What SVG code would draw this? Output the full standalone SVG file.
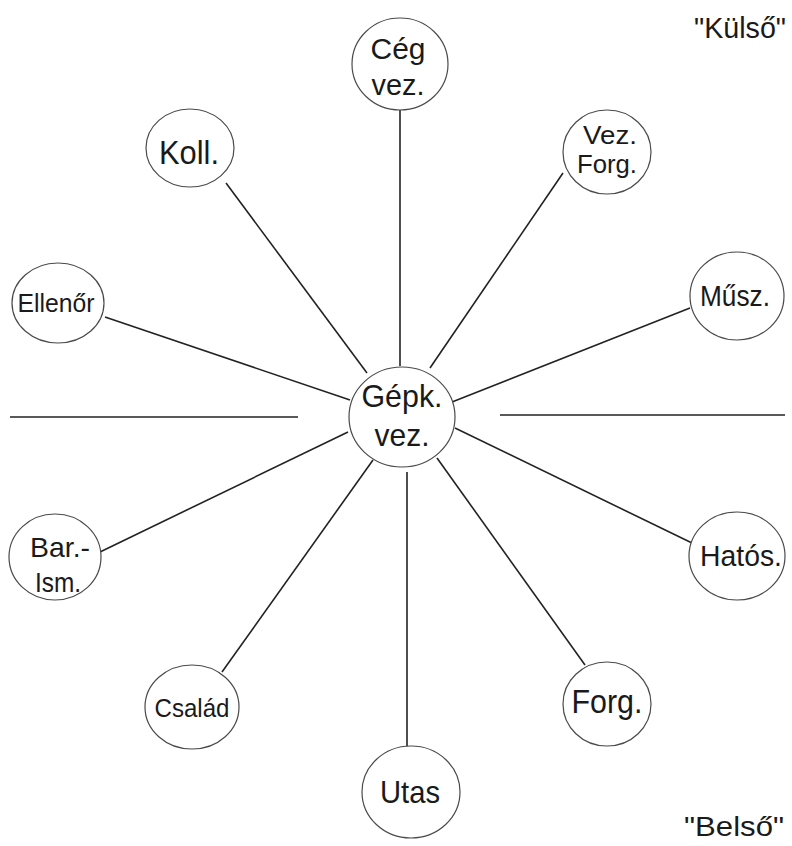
<svg xmlns="http://www.w3.org/2000/svg" width="792" height="846" viewBox="0 0 792 846">
<style>
.n{fill:#fff;stroke:#4a4a4a;stroke-width:1.2}
.t{font-family:"Liberation Sans",Arial,sans-serif;fill:#1a1a1a;text-anchor:middle}
.c line{stroke:#222;stroke-width:1.6}
</style>
<rect width="792" height="846" fill="#fff"/>
<g class="c" id="connectors">
<line x1="400" y1="110" x2="400" y2="366"/>
<line x1="226" y1="183" x2="367" y2="373"/>
<line x1="563" y1="173" x2="430" y2="368"/>
<line x1="105" y1="317" x2="350" y2="400"/>
<line x1="690" y1="308" x2="452" y2="402"/>
<line x1="100" y1="552" x2="348" y2="432"/>
<line x1="692" y1="543" x2="455" y2="428"/>
<line x1="222" y1="672" x2="373" y2="460"/>
<line x1="585" y1="665" x2="437" y2="458"/>
<line x1="407" y1="752" x2="407" y2="472"/>
<line x1="10" y1="417" x2="298" y2="417"/>
<line x1="500" y1="415" x2="785" y2="415"/>
</g>
<g id="center">
<ellipse class="n" cx="402" cy="417" rx="53" ry="50"/>
<text class="t" x="402" y="407" font-size="32" textLength="81" lengthAdjust="spacingAndGlyphs">Gépk.</text>
<text class="t" x="402" y="446" font-size="32" textLength="55" lengthAdjust="spacingAndGlyphs">vez.</text>
</g>
<g id="ceg">
<ellipse class="n" cx="400" cy="64" rx="48" ry="46"/>
<text class="t" x="398" y="59" font-size="30" textLength="55" lengthAdjust="spacingAndGlyphs">Cég</text>
<text class="t" x="398" y="95" font-size="30" textLength="53" lengthAdjust="spacingAndGlyphs">vez.</text>
</g>
<g id="koll">
<ellipse class="n" cx="190" cy="148" rx="44" ry="39"/>
<text class="t" x="189" y="164" font-size="33" textLength="60" lengthAdjust="spacingAndGlyphs">Koll.</text>
</g>
<g id="vezforg">
<ellipse class="n" cx="607" cy="152" rx="44" ry="42"/>
<text class="t" x="610" y="144" font-size="25" textLength="54" lengthAdjust="spacingAndGlyphs">Vez.</text>
<text class="t" x="607" y="173" font-size="25" textLength="60" lengthAdjust="spacingAndGlyphs">Forg.</text>
</g>
<g id="ellenor">
<ellipse class="n" cx="58" cy="303" rx="46" ry="40"/>
<text class="t" x="56" y="312" font-size="26" textLength="77" lengthAdjust="spacingAndGlyphs">Ellenőr</text>
</g>
<g id="musz">
<ellipse class="n" cx="737" cy="296" rx="47" ry="44"/>
<text class="t" x="735" y="306" font-size="30" textLength="70" lengthAdjust="spacingAndGlyphs">Műsz.</text>
</g>
<g id="barism">
<ellipse class="n" cx="55" cy="557" rx="46" ry="43"/>
<text class="t" x="60" y="557" font-size="28" textLength="60" lengthAdjust="spacingAndGlyphs">Bar.-</text>
<text class="t" x="58" y="592" font-size="28" textLength="46" lengthAdjust="spacingAndGlyphs">Ism.</text>
</g>
<g id="hatos">
<ellipse class="n" cx="737" cy="556" rx="48" ry="44"/>
<text class="t" x="741" y="566" font-size="30" textLength="82" lengthAdjust="spacingAndGlyphs">Hatós.</text>
</g>
<g id="csalad">
<ellipse class="n" cx="192" cy="707" rx="47" ry="42"/>
<text class="t" x="192" y="717" font-size="26" textLength="75" lengthAdjust="spacingAndGlyphs">Család</text>
</g>
<g id="forg">
<ellipse class="n" cx="607" cy="704" rx="44" ry="42"/>
<text class="t" x="607" y="713" font-size="33" textLength="71" lengthAdjust="spacingAndGlyphs">Forg.</text>
</g>
<g id="utas">
<ellipse class="n" cx="411" cy="792" rx="49" ry="46"/>
<text class="t" x="410" y="803" font-size="32" textLength="60" lengthAdjust="spacingAndGlyphs">Utas</text>
</g>
<text class="t" x="740" y="38" font-size="30" textLength="92" lengthAdjust="spacingAndGlyphs">"Külső"</text>
<text class="t" x="734" y="836" font-size="28" textLength="100" lengthAdjust="spacingAndGlyphs">"Belső"</text>
</svg>
